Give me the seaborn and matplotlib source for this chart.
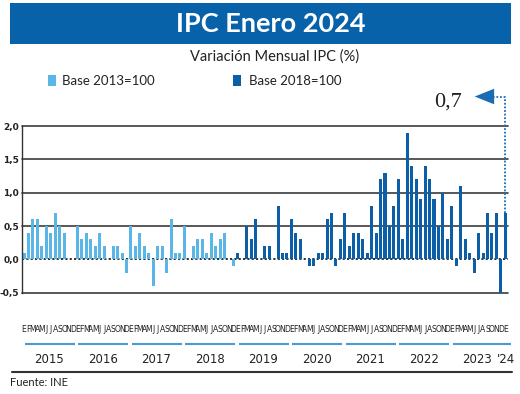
import matplotlib
matplotlib.use('Agg')
import matplotlib.pyplot as plt
import numpy as np
import pandas as pd
import seaborn as sns
from matplotlib.patches import Rectangle

# monthly CPI variation (%), Jan 2015 - Jan 2024
base_2013 = [
    0.1, 0.4, 0.6, 0.6, 0.2, 0.5, 0.4, 0.7, 0.5, 0.4, 0.0, 0.0,     # 2015
    0.5, 0.3, 0.4, 0.3, 0.2, 0.4, 0.2, 0.0, 0.2, 0.2, 0.1, -0.2,    # 2016
    0.5, 0.2, 0.4, 0.2, 0.1, -0.4, 0.2, 0.2, -0.2, 0.6, 0.1, 0.1,   # 2017
    0.5, 0.0, 0.2, 0.3, 0.3, 0.1, 0.4, 0.2, 0.3, 0.4, 0.0, -0.1,    # 2018
]
base_2018 = [
    0.1, 0.0, 0.5, 0.3, 0.6, 0.0, 0.2, 0.2, 0.0, 0.8, 0.1, 0.1,     # 2019
    0.6, 0.4, 0.3, 0.0, -0.1, -0.1, 0.1, 0.1, 0.6, 0.7, -0.1, 0.3,  # 2020
    0.7, 0.2, 0.4, 0.4, 0.3, 0.1, 0.8, 0.4, 1.2, 1.3, 0.5, 0.8,     # 2021
    1.2, 0.3, 1.9, 1.4, 1.2, 0.9, 1.4, 1.2, 0.9, 0.5, 1.0, 0.3,     # 2022
    0.8, -0.1, 1.1, 0.3, 0.1, -0.2, 0.4, 0.1, 0.7, 0.4, 0.7, -0.5,  # 2023
    0.7,                                                            # 2024
]
month_letters = ['E', 'F', 'M', 'A', 'M', 'J', 'J', 'A', 'S', 'O', 'N', 'D']
year_labels = ['2015', '2016', '2017', '2018', '2019', '2020', '2021', '2022', '2023', "'24"]
series_names = ['Base 2013=100', 'Base 2018=100']
y_ticks = [-0.5, 0.0, 0.5, 1.0, 1.5, 2.0]
last_label = '0,7'

LIGHT = '#5ab6e6'
DARK = '#0a5fa8'
BANNER = '#0862aa'

values = base_2013 + base_2018
df = pd.DataFrame({
    'pos': np.arange(len(values)),
    'value': values,
    'base': [series_names[0]] * len(base_2013) + [series_names[1]] * len(base_2018),
})

sns.set_style('white')
plt.rcParams['font.family'] = ['Lato', 'DejaVu Sans']
narrow = ['Liberation Sans Narrow', 'DejaVu Sans']

fig = plt.figure(figsize=(5.2, 3.94), dpi=100)
ax = fig.add_axes([0.0423, 0.2571, 0.9346, 0.4231])

# grid
for y in y_ticks:
    if y == 0:
        ax.axhline(0, color='#222222', lw=1.3, ls=(0, (1.2, 1.2)), zorder=0, clip_on=False)
    else:
        ax.axhline(y, color='#3c3c3c', lw=1.2, zorder=0, clip_on=False)

sns.barplot(data=df, x='pos', y='value', hue='base', dodge=False,
            palette={series_names[0]: LIGHT, series_names[1]: DARK},
            width=0.68, saturation=1, legend=False, ax=ax)
for p in ax.patches:
    p.set_zorder(2)
    p.set_linewidth(0)

ax.set_xlim(-0.45, 108.6)
ax.set_ylim(-0.5, 2.0)
ax.set_xlabel('')
ax.set_ylabel('')
ax.set_xticks([])
ax.set_yticks(y_ticks)
ax.set_yticklabels([f'{t:.1f}'.replace('.', ',') for t in y_ticks],
                   fontsize=6.5, fontweight='bold', family=narrow, color='#222222')
ax.tick_params(axis='y', length=0, pad=2)
for s in ['top', 'right', 'bottom']:
    ax.spines[s].set_visible(False)
ax.spines['left'].set_color('#333333')
ax.spines['left'].set_linewidth(1.0)

# month letters and year bands below the plot
xt = ax.get_xaxis_transform()
for i in range(len(values)):
    ax.text(i, -0.218, month_letters[i % 12], transform=xt, ha='center', va='center',
            fontsize=5.5, family=narrow, color='#222222', clip_on=False)
for k, yl in enumerate(year_labels):
    start = 12 * k
    end = min(12 * k + 11, len(values) - 1)
    if start == end:
        x0, x1 = start - 0.6, start + 1.2
    else:
        x0, x1 = start + 0.2, end + 0.4
    ax.plot([x0, x1], [-0.307, -0.307], transform=xt, color='#4c9ad2', lw=1.5,
            clip_on=False, solid_capstyle='butt')
    ax.text((start + end) / 2 + 0.2, -0.398, yl, transform=xt, ha='center', va='center',
            fontsize=8.5, family=narrow, color='#222222', clip_on=False)

# annotation for the latest value
last = len(values) - 1
y_top = 2.442
ax.plot([last, last, 104.0], [values[-1], y_top, y_top], color='#1a6db5', lw=1.3,
        ls=(0, (1, 1)), clip_on=False, zorder=3)
ax.annotate('', xy=(100.5, y_top), xytext=(104.2, y_top),
            arrowprops=dict(arrowstyle='-|>,head_length=1.0,head_width=0.4',
                            color='#1a6db5', lw=0, mutation_scale=14),
            annotation_clip=False)
ax.text(95.1, 2.296, last_label, ha='center', va='baseline', fontsize=16,
        family=['Liberation Serif', 'DejaVu Serif'], color='#222222', clip_on=False)

# header
fig.add_artist(Rectangle((10 / 520, 1 - 44.3 / 394), 500.7 / 520, 41 / 394,
                         transform=fig.transFigure, color=BANNER, lw=0))
fig.text(271 / 520, 1 - 31.7 / 394, 'IPC Enero 2024', ha='center', va='baseline',
         fontsize=19.5, fontweight='bold', color='white')
fig.text(275 / 520, 1 - 61 / 394, 'Variación Mensual IPC (%)', ha='center', va='baseline',
         fontsize=10.5, color='#222222')

# legend
for x_sq, x_tx, name, col in [(48, 62, series_names[0], LIGHT), (233, 249, series_names[1], DARK)]:
    fig.add_artist(Rectangle((x_sq / 520, 1 - 86 / 394), 8 / 520, 11 / 394,
                             transform=fig.transFigure, color=col, lw=0))
    fig.text(x_tx / 520, 1 - 85 / 394, name, ha='left', va='baseline',
             fontsize=9.5, color='#222222')

# footer
fig.add_artist(plt.Line2D([11.7 / 520, 511.7 / 520], [1 - 371.7 / 394] * 2,
                          transform=fig.transFigure, color='#333333', lw=1.5))
fig.text(10 / 520, 1 - 382 / 394, 'Fuente: INE', ha='left', va='center',
         fontsize=8, color='#222222')

fig.savefig('out.png', dpi=100)
